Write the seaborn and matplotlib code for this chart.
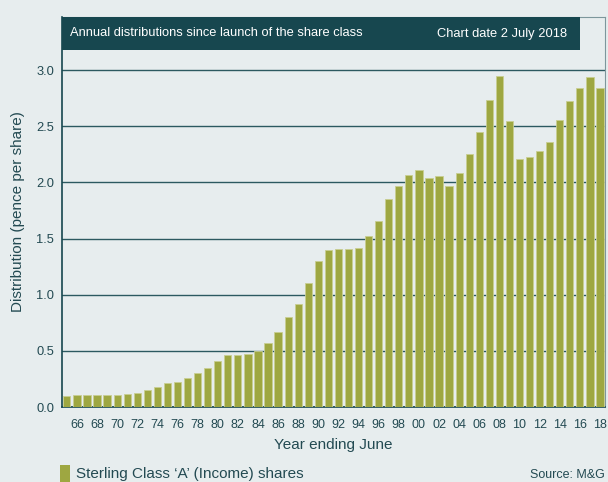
import matplotlib
matplotlib.use("Agg")
import matplotlib.pyplot as plt
import seaborn as sns
import pandas as pd
from matplotlib.patches import Rectangle
from matplotlib.ticker import FixedLocator

years = [f"{y % 100:02d}" for y in range(1965, 2019)]
distributions = [
    0.095, 0.104, 0.104, 0.104, 0.110, 0.110, 0.119, 0.128, 0.151, 0.178,
    0.210, 0.225, 0.255, 0.303, 0.347, 0.412, 0.460, 0.466, 0.472, 0.500,
    0.572, 0.668, 0.798, 0.917, 1.104, 1.303, 1.398, 1.407, 1.407, 1.412,
    1.519, 1.656, 1.852, 1.970, 2.062, 2.110, 2.039, 2.053, 1.970, 2.083,
    2.249, 2.448, 2.733, 2.947, 2.546, 2.208, 2.223, 2.282, 2.359, 2.555,
    2.721, 2.840, 2.938, 2.840,
]
y_ticks = [0.0, 0.5, 1.0, 1.5, 2.0, 2.5, 3.0]
title_left = "Annual distributions since launch of the share class"
title_right = "Chart date 2 July 2018"
series_name = "Sterling Class \u2018A\u2019 (Income) shares"
source = "Source: M&G"

BG = "#e7edee"
TEAL = "#17474f"
TXT = "#234a52"
BAR = "#9ea741"

df = pd.DataFrame({"year": years, "value": distributions})

sns.set_style("white")
plt.rcParams["font.family"] = ["Liberation Sans", "DejaVu Sans"]

W, H = 608, 482
fig = plt.figure(figsize=(W / 100, H / 100), dpi=100, facecolor=BG)
ax = fig.add_axes([62 / W, (H - 407) / H, 543 / W, 390 / H])
ax.set_facecolor(BG)

sns.barplot(data=df, x="year", y="value", order=years, color=BAR,
            width=0.72, edgecolor="#c9ce92", linewidth=0.6,
            saturation=1, ax=ax, zorder=3)

ax.set_ylim(0, 390 / 112.3)
ax.set_xlim(-0.48, 53.5)
ax.set_yticks(y_ticks)
ax.set_yticklabels([f"{v:.1f}" for v in y_ticks], fontsize=9.3, color=TXT)
ax.yaxis.grid(True, color="#2c5960", linewidth=1.0, zorder=0)
ax.set_axisbelow(True)

labelled = list(range(1, len(years), 2))
ax.set_xticks(labelled)
ax.set_xticklabels([years[i] for i in labelled], fontsize=9, color=TXT)
ax.tick_params(axis="x", which="major", length=0, pad=8.5)
ax.tick_params(axis="y", length=0, pad=5.5)
ax.xaxis.set_minor_locator(FixedLocator([i + 0.45 for i in range(len(years))]))
ax.tick_params(axis="x", which="minor", direction="in", length=4.5,
               width=1.0, color="#4d6d73")

ax.set_xlabel("Year ending June", fontsize=11, color=TXT, labelpad=5)
ax.set_ylabel("Distribution (pence per share)", fontsize=11, color=TXT, labelpad=8)

for side in ["left", "bottom"]:
    ax.spines[side].set_color(TEAL)
    ax.spines[side].set_linewidth(1.2)
for side in ["right", "top"]:
    ax.spines[side].set_color("#7d979c")
    ax.spines[side].set_linewidth(0.8)

# header band
hx1 = (580 - 62) / 543
hy0 = (407 - 50) / 390
ax.add_patch(Rectangle((0, hy0), hx1, 1 - hy0, transform=ax.transAxes,
                       facecolor=TEAL, edgecolor="none", zorder=5, clip_on=False))
ax.text(8 / 543, (hy0 + 1) / 2, title_left, transform=ax.transAxes,
        fontsize=9.3, color="white", va="center", ha="left", zorder=6)
ax.text((567 - 62) / 543, (hy0 + 1) / 2, title_right, transform=ax.transAxes,
        fontsize=9.3, color="white", va="center", ha="right", zorder=6)

# legend
fig.patches.append(Rectangle((60 / W, 0), 10 / W, 17 / H, transform=fig.transFigure,
                             facecolor=BAR, edgecolor="none"))
fig.text(76 / W, (H - 474) / H, series_name, fontsize=11, color=TXT,
         va="center", ha="left")
fig.text(605 / W, (H - 475) / H, source, fontsize=9, color=TXT,
         va="center", ha="right")

fig.savefig("out.png", dpi=100, facecolor=BG)
